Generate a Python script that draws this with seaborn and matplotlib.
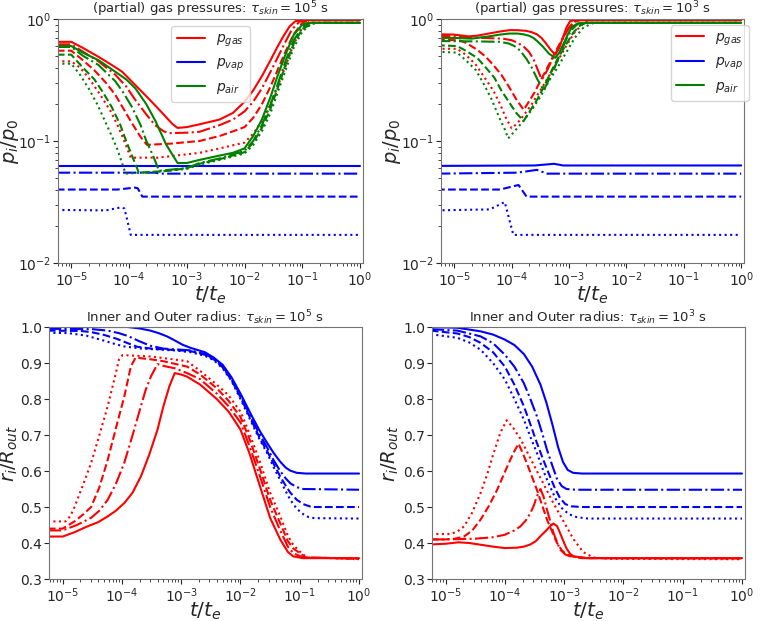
import numpy as np
import matplotlib
matplotlib.use("Agg")
import matplotlib.pyplot as plt
from matplotlib.lines import Line2D
import seaborn as sns

# one entry per simulation case, always in this order
STYLES = ["-", "-.", "--", ":"]

# ---------- tau_skin = 1e5 s, (partial) gas pressures ----------
# x values are log10(t/t_e), y values are p_i/p_0
gas5_lt = [
    [-5.25, -5.0, -4.8, -4.53, -4.3, -4.12, -3.9, -3.65, -3.4, -3.25, -3.16, -3.0, -2.78, -2.43, -2.2, -2.0, -1.85, -1.7, -1.55, -1.44, -1.33, -1.22, -1.12, -1.0, 0.0],
    [-5.25, -5.0, -4.8, -4.53, -4.24, -4.05, -3.9, -3.7, -3.55, -3.4, -3.3, -3.0, -2.78, -2.43, -2.2, -2.0, -1.85, -1.7, -1.55, -1.44, -1.3, -1.18, -1.05, -0.95, 0.0],
    [-5.25, -5.0, -4.8, -4.6, -4.4, -4.24, -4.1, -3.95, -3.8, -3.69, -3.3, -2.78, -2.43, -2.2, -2.0, -1.85, -1.7, -1.55, -1.44, -1.3, -1.15, -1.0, -0.89, 0.0],
    [-5.25, -5.0, -4.85, -4.7, -4.5, -4.32, -4.2, -4.1, -3.97, -3.5, -2.78, -2.43, -2.0, -1.85, -1.7, -1.55, -1.44, -1.3, -1.15, -1.0, -0.88, -0.8, 0.0],
]
gas5_p = [
    [0.65, 0.65, 0.58, 0.49, 0.42, 0.37, 0.29, 0.22, 0.165, 0.138, 0.128, 0.13, 0.137, 0.15, 0.17, 0.21, 0.26, 0.34, 0.46, 0.58, 0.72, 0.87, 0.96, 0.98, 0.98],
    [0.62, 0.62, 0.54, 0.45, 0.35, 0.28, 0.22, 0.165, 0.135, 0.12, 0.116, 0.117, 0.119, 0.135, 0.15, 0.175, 0.21, 0.27, 0.37, 0.47, 0.64, 0.82, 0.95, 0.98, 0.98],
    [0.55, 0.55, 0.46, 0.38, 0.30, 0.24, 0.185, 0.14, 0.108, 0.093, 0.095, 0.10, 0.11, 0.12, 0.13, 0.155, 0.20, 0.28, 0.37, 0.53, 0.75, 0.93, 0.98, 0.98],
    [0.45, 0.45, 0.40, 0.33, 0.24, 0.176, 0.135, 0.105, 0.073, 0.073, 0.08, 0.087, 0.097, 0.115, 0.145, 0.20, 0.27, 0.40, 0.62, 0.85, 0.95, 0.98, 0.98],
]
vap5_lt = [
    [-5.25, 0.0],
    [-5.25, -3.55, -3.45, 0.0],
    [-5.25, -4.2, -3.9, -3.85, -3.77, 0.0],
    [-5.25, -4.4, -4.15, -4.08, -3.97, 0.0],
]
vap5_p = [
    [0.0625, 0.0625],
    [0.055, 0.055, 0.054, 0.054],
    [0.040, 0.040, 0.0415, 0.041, 0.035, 0.035],
    [0.0272, 0.027, 0.0285, 0.028, 0.017, 0.017],
]
air5_lt = [
    [-5.25, -5.0, -4.8, -4.53, -4.24, -4.05, -3.89, -3.7, -3.54, -3.36, -3.16, -3.0, -2.78, -2.43, -2.2, -2.0, -1.85, -1.7, -1.55, -1.44, -1.3, -1.15, -1.0, -0.9, 0.0],
    [-5.25, -5.0, -4.8, -4.53, -4.24, -4.1, -3.95, -3.8, -3.7, -3.58, -3.48, -3.0, -2.78, -2.43, -2.0, -1.85, -1.7, -1.55, -1.44, -1.3, -1.15, -1.0, -0.85, 0.0],
    [-5.25, -5.0, -4.8, -4.6, -4.45, -4.3, -4.15, -4.05, -3.93, -3.83, -3.3, -3.0, -2.78, -2.43, -2.0, -1.85, -1.7, -1.55, -1.44, -1.3, -1.15, -1.0, -0.8, 0.0],
    [-5.25, -5.0, -4.85, -4.7, -4.55, -4.4, -4.3, -4.2, -4.06, -3.5, -3.0, -2.78, -2.43, -2.0, -1.85, -1.7, -1.55, -1.44, -1.3, -1.15, -1.0, -0.85, -0.72, 0.0],
]
air5_p = [
    [0.60, 0.60, 0.53, 0.46, 0.37, 0.32, 0.27, 0.20, 0.145, 0.094, 0.066, 0.066, 0.07, 0.076, 0.08, 0.087, 0.11, 0.15, 0.23, 0.33, 0.50, 0.74, 0.90, 0.93, 0.93],
    [0.59, 0.59, 0.50, 0.42, 0.31, 0.25, 0.19, 0.135, 0.10, 0.075, 0.057, 0.06, 0.066, 0.072, 0.083, 0.10, 0.135, 0.20, 0.28, 0.44, 0.67, 0.86, 0.93, 0.93],
    [0.51, 0.51, 0.40, 0.32, 0.25, 0.19, 0.135, 0.10, 0.072, 0.055, 0.057, 0.06, 0.065, 0.071, 0.081, 0.097, 0.128, 0.185, 0.26, 0.41, 0.63, 0.83, 0.93, 0.93],
    [0.43, 0.43, 0.35, 0.27, 0.20, 0.14, 0.11, 0.085, 0.054, 0.056, 0.059, 0.064, 0.07, 0.079, 0.093, 0.12, 0.17, 0.24, 0.37, 0.58, 0.79, 0.91, 0.93, 0.93],
]

# ---------- tau_skin = 1e3 s, (partial) gas pressures ----------
gas3_lt = [
    [-5.3, -5.0, -4.85, -4.75, -4.6, -4.4, -4.2, -4.04, -3.9, -3.75, -3.65, -3.56, -3.48, -3.4, -3.32, -3.24, -3.17, -3.1, -3.04, -2.98, -2.9, 0.0],
    [-5.3, -5.0, -4.5, -4.15, -4.0, -3.9, -3.8, -3.7, -3.62, -3.56, -3.5, -3.47, -3.38, -3.28, -3.2, -3.1, -3.0, -2.9, -2.8, 0.0],
    [-5.3, -4.92, -4.8, -4.6, -4.45, -4.32, -4.18, -4.05, -3.92, -3.79, -3.7, -3.6, -3.5, -3.4, -3.3, -3.2, -3.1, -3.0, -2.9, -2.8, 0.0],
    [-5.3, -4.95, -4.8, -4.62, -4.47, -4.32, -4.2, -4.1, -4.0, -3.9, -3.8, -3.65, -3.5, -3.35, -3.2, -3.05, -2.9, -2.75, -2.63, 0.0],
]
gas3_p = [
    [0.75, 0.745, 0.73, 0.72, 0.73, 0.76, 0.79, 0.81, 0.81, 0.80, 0.78, 0.75, 0.70, 0.63, 0.56, 0.51, 0.58, 0.72, 0.86, 0.96, 0.98, 0.98],
    [0.73, 0.72, 0.70, 0.69, 0.67, 0.64, 0.60, 0.54, 0.47, 0.40, 0.34, 0.32, 0.38, 0.48, 0.56, 0.70, 0.85, 0.96, 0.98, 0.98],
    [0.675, 0.67, 0.64, 0.56, 0.49, 0.42, 0.35, 0.28, 0.22, 0.18, 0.21, 0.25, 0.31, 0.38, 0.47, 0.58, 0.71, 0.85, 0.95, 0.98, 0.98],
    [0.57, 0.57, 0.51, 0.42, 0.33, 0.26, 0.20, 0.155, 0.127, 0.14, 0.16, 0.20, 0.26, 0.34, 0.45, 0.60, 0.78, 0.92, 0.98, 0.98],
]
vap3_lt = [
    [-5.3, -3.6, -3.26, -3.1, 0.0],
    [-5.3, -3.9, -3.56, -3.38, 0.0],
    [-5.3, -4.2, -3.88, -3.74, 0.0],
    [-5.3, -4.38, -4.12, -3.97, 0.0],
]
vap3_p = [
    [0.0625, 0.063, 0.065, 0.063, 0.063],
    [0.054, 0.055, 0.058, 0.054, 0.054],
    [0.040, 0.040, 0.0436, 0.035, 0.035],
    [0.027, 0.0275, 0.0316, 0.017, 0.017],
]
air3_lt = [
    [-5.3, -5.0, -4.7, -4.4, -4.2, -4.04, -3.9, -3.8, -3.7, -3.62, -3.54, -3.45, -3.35, -3.24, -3.17, -3.1, -3.02, -2.95, -2.85, -2.75, 0.0],
    [-5.3, -4.6, -4.2, -4.05, -3.95, -3.85, -3.74, -3.65, -3.55, -3.44, -3.35, -3.25, -3.15, -3.05, -2.95, -2.85, -2.75, 0.0],
    [-5.3, -4.95, -4.8, -4.6, -4.45, -4.3, -4.18, -4.05, -3.92, -3.79, -3.67, -3.55, -3.42, -3.3, -3.18, -3.05, -2.92, -2.8, -2.7, 0.0],
    [-5.3, -4.95, -4.8, -4.62, -4.48, -4.35, -4.2, -4.12, -4.06, -3.95, -3.8, -3.65, -3.5, -3.35, -3.2, -3.05, -2.9, -2.75, -2.6, -2.5, 0.0],
]
air3_p = [
    [0.70, 0.70, 0.69, 0.72, 0.745, 0.76, 0.76, 0.75, 0.73, 0.70, 0.65, 0.59, 0.52, 0.48, 0.53, 0.62, 0.75, 0.86, 0.92, 0.93, 0.93],
    [0.66, 0.655, 0.65, 0.63, 0.60, 0.55, 0.47, 0.40, 0.32, 0.26, 0.32, 0.40, 0.52, 0.68, 0.82, 0.91, 0.93, 0.93],
    [0.61, 0.60, 0.55, 0.48, 0.40, 0.33, 0.26, 0.21, 0.17, 0.146, 0.18, 0.22, 0.29, 0.38, 0.49, 0.62, 0.78, 0.89, 0.93, 0.93],
    [0.54, 0.53, 0.46, 0.38, 0.29, 0.22, 0.15, 0.125, 0.105, 0.12, 0.145, 0.18, 0.23, 0.31, 0.40, 0.53, 0.70, 0.85, 0.92, 0.93, 0.93],
]

# ---------- tau_skin = 1e5 s, inner (red) and outer (blue) radius ----------
inner5_lt = [
    [-5.25, -5.0, -4.8, -4.6, -4.4, -4.24, -4.1, -3.96, -3.82, -3.68, -3.54, -3.4, -3.3, -3.2, -3.11, -3.0, -2.9, -2.68, -2.4, -2.2, -2.0, -1.85, -1.67, -1.5, -1.33, -1.2, -1.11, -0.95, 0.0],
    [-5.25, -5.0, -4.76, -4.52, -4.38, -4.24, -4.1, -3.96, -3.82, -3.68, -3.6, -3.51, -3.4, -3.3, -3.1, -2.9, -2.68, -2.4, -2.2, -2.0, -1.85, -1.67, -1.5, -1.33, -1.2, -1.11, -0.95, 0.0],
    [-5.25, -5.0, -4.8, -4.65, -4.52, -4.38, -4.24, -4.1, -3.96, -3.85, -3.77, -3.5, -3.3, -2.9, -2.68, -2.4, -2.2, -2.0, -1.85, -1.67, -1.5, -1.33, -1.2, -1.11, -0.9, 0.0],
    [-5.25, -4.95, -4.87, -4.8, -4.66, -4.52, -4.38, -4.24, -4.12, -4.05, -3.99, -3.5, -2.9, -2.68, -2.4, -2.2, -2.0, -1.85, -1.67, -1.5, -1.33, -1.2, -1.11, -0.95, -0.85, 0.0],
]
inner5_r = [
    [0.418, 0.418, 0.43, 0.445, 0.458, 0.474, 0.49, 0.511, 0.54, 0.585, 0.645, 0.715, 0.78, 0.835, 0.872, 0.868, 0.862, 0.84, 0.80, 0.765, 0.715, 0.65, 0.557, 0.47, 0.41, 0.375, 0.363, 0.358, 0.358],
    [0.435, 0.435, 0.45, 0.47, 0.49, 0.52, 0.565, 0.623, 0.70, 0.78, 0.825, 0.863, 0.897, 0.892, 0.885, 0.872, 0.855, 0.815, 0.78, 0.735, 0.67, 0.585, 0.50, 0.435, 0.39, 0.372, 0.36, 0.357],
    [0.44, 0.44, 0.46, 0.48, 0.50, 0.555, 0.631, 0.72, 0.807, 0.89, 0.915, 0.91, 0.905, 0.89, 0.868, 0.83, 0.795, 0.75, 0.69, 0.605, 0.52, 0.455, 0.405, 0.385, 0.36, 0.356],
    [0.46, 0.46, 0.475, 0.50, 0.56, 0.622, 0.70, 0.78, 0.86, 0.91, 0.922, 0.918, 0.905, 0.878, 0.84, 0.81, 0.765, 0.705, 0.625, 0.54, 0.475, 0.42, 0.395, 0.368, 0.36, 0.355],
]
outer5_lt = [
    [-5.25, -3.9, -3.7, -3.52, -3.38, -3.24, -3.1, -2.98, -2.84, -2.6, -2.45, -2.3, -2.15, -2.0, -1.8, -1.67, -1.55, -1.44, -1.33, -1.24, -1.16, -1.05, -0.9, 0.0],
    [-5.25, -4.5, -4.24, -4.05, -3.9, -3.7, -3.52, -3.3, -3.0, -2.84, -2.6, -2.45, -2.3, -2.15, -2.0, -1.8, -1.67, -1.55, -1.44, -1.33, -1.24, -1.16, -1.05, -0.94, 0.0],
    [-5.25, -4.7, -4.52, -4.3, -4.1, -3.9, -3.74, -3.5, -3.0, -2.84, -2.6, -2.45, -2.3, -2.15, -2.0, -1.8, -1.67, -1.55, -1.44, -1.33, -1.24, -1.16, -1.05, -0.94, -0.8, 0.0],
    [-5.25, -4.9, -4.6, -4.3, -4.1, -3.96, -3.66, -3.12, -2.84, -2.6, -2.45, -2.3, -2.15, -2.0, -1.8, -1.67, -1.55, -1.44, -1.33, -1.24, -1.16, -1.05, -0.94, -0.85, -0.75, 0.0],
]
outer5_r = [
    [1.0, 1.0, 0.996, 0.99, 0.983, 0.974, 0.962, 0.951, 0.942, 0.93, 0.915, 0.895, 0.86, 0.815, 0.75, 0.71, 0.678, 0.65, 0.626, 0.61, 0.601, 0.595, 0.593, 0.593],
    [0.995, 0.994, 0.99, 0.983, 0.975, 0.96, 0.948, 0.94, 0.937, 0.935, 0.925, 0.912, 0.89, 0.855, 0.81, 0.74, 0.70, 0.665, 0.63, 0.60, 0.58, 0.566, 0.555, 0.55, 0.548],
    [0.99, 0.989, 0.986, 0.978, 0.968, 0.955, 0.945, 0.94, 0.935, 0.933, 0.923, 0.91, 0.888, 0.852, 0.805, 0.735, 0.69, 0.655, 0.62, 0.585, 0.56, 0.54, 0.52, 0.508, 0.50, 0.50],
    [0.984, 0.983, 0.976, 0.962, 0.952, 0.946, 0.94, 0.935, 0.93, 0.92, 0.908, 0.885, 0.85, 0.80, 0.73, 0.685, 0.65, 0.61, 0.575, 0.545, 0.52, 0.495, 0.48, 0.472, 0.469, 0.468],
]

# ---------- tau_skin = 1e3 s, inner (red) and outer (blue) radius ----------
inner3_lt = [
    [-5.25, -5.0, -4.78, -4.6, -4.4, -4.2, -4.0, -3.8, -3.68, -3.57, -3.48, -3.4, -3.29, -3.23, -3.18, -3.12, -3.07, -3.0, -2.96, -2.9, -2.84, -2.62, 0.0],
    [-5.25, -5.0, -4.5, -4.2, -4.0, -3.84, -3.74, -3.65, -3.57, -3.51, -3.46, -3.4, -3.35, -3.29, -3.18, -3.07, -2.98, -2.9, -2.6, 0.0],
    [-5.25, -5.0, -4.85, -4.69, -4.55, -4.41, -4.27, -4.13, -4.02, -3.91, -3.84, -3.77, -3.7, -3.63, -3.46, -3.29, -3.12, -3.04, -2.96, -2.8, -2.7, 0.0],
    [-5.25, -4.92, -4.8, -4.69, -4.55, -4.41, -4.3, -4.19, -4.08, -3.97, -3.86, -3.74, -3.6, -3.46, -3.32, -3.18, -3.01, -2.84, -2.68, -2.51, -2.2, 0.0],
]
inner3_r = [
    [0.396, 0.398, 0.402, 0.40, 0.395, 0.39, 0.386, 0.387, 0.39, 0.396, 0.405, 0.419, 0.437, 0.448, 0.454, 0.447, 0.428, 0.40, 0.385, 0.37, 0.363, 0.358, 0.358],
    [0.41, 0.41, 0.412, 0.416, 0.423, 0.435, 0.446, 0.462, 0.483, 0.505, 0.53, 0.55, 0.53, 0.493, 0.428, 0.382, 0.368, 0.363, 0.358, 0.358],
    [0.41, 0.41, 0.412, 0.418, 0.435, 0.465, 0.503, 0.548, 0.59, 0.631, 0.655, 0.676, 0.65, 0.622, 0.548, 0.465, 0.40, 0.38, 0.368, 0.36, 0.358, 0.357],
    [0.425, 0.425, 0.432, 0.446, 0.485, 0.539, 0.59, 0.65, 0.705, 0.741, 0.72, 0.69, 0.645, 0.60, 0.555, 0.51, 0.46, 0.41, 0.375, 0.36, 0.356, 0.355],
]
outer3_lt = [
    [-5.25, -4.8, -4.41, -4.2, -4.0, -3.84, -3.68, -3.54, -3.4, -3.3, -3.2, -3.1, -3.02, -2.94, -2.85, -2.7, 0.0],
    [-5.25, -4.8, -4.41, -4.2, -4.0, -3.84, -3.68, -3.57, -3.46, -3.37, -3.29, -3.2, -3.12, -3.04, -2.96, -2.8, 0.0],
    [-5.25, -4.8, -4.6, -4.41, -4.2, -4.0, -3.84, -3.68, -3.57, -3.46, -3.35, -3.24, -3.15, -3.07, -2.98, -2.88, -2.7, 0.0],
    [-5.25, -4.8, -4.6, -4.41, -4.2, -4.0, -3.84, -3.68, -3.57, -3.46, -3.35, -3.24, -3.14, -3.04, -2.92, -2.79, -2.6, 0.0],
]
outer3_r = [
    [1.0, 0.998, 0.988, 0.979, 0.965, 0.95, 0.925, 0.89, 0.84, 0.79, 0.73, 0.665, 0.625, 0.603, 0.595, 0.593, 0.593],
    [0.994, 0.99, 0.974, 0.955, 0.923, 0.89, 0.844, 0.80, 0.752, 0.705, 0.659, 0.615, 0.578, 0.558, 0.55, 0.548, 0.548],
    [0.99, 0.982, 0.972, 0.956, 0.93, 0.89, 0.84, 0.78, 0.73, 0.678, 0.63, 0.585, 0.55, 0.525, 0.508, 0.502, 0.50, 0.50],
    [0.98, 0.97, 0.957, 0.937, 0.90, 0.854, 0.80, 0.743, 0.695, 0.65, 0.60, 0.557, 0.522, 0.497, 0.48, 0.472, 0.468, 0.468],
]

sns.set_style("ticks", {"axes.edgecolor": "0.45"})
plt.rcParams["font.family"] = ["DejaVu Sans"]
plt.rcParams["mathtext.fontset"] = "dejavusans"


def draw(ax, lts, vals, color):
    for lt, v, ls in zip(lts, vals, STYLES):
        sns.lineplot(x=10.0 ** np.asarray(lt), y=v, ax=ax, color=color,
                     linestyle=ls, linewidth=1.5, estimator=None, sort=False)


fig, axes = plt.subplots(2, 2, figsize=(7.6, 6.21), dpi=100)
(ax1, ax2), (ax3, ax4) = axes
ax1.set_position([0.0763, 0.5765, 0.4013, 0.3929])
ax2.set_position([0.5803, 0.5765, 0.3987, 0.3929])
ax3.set_position([0.0645, 0.0676, 0.4118, 0.4058])
ax4.set_position([0.5684, 0.0676, 0.4118, 0.4058])

for ax in axes.flat:
    ax.set_xscale("log")

for ax, gas, vap, air, tau in [(ax1, (gas5_lt, gas5_p), (vap5_lt, vap5_p), (air5_lt, air5_p), 5),
                               (ax2, (gas3_lt, gas3_p), (vap3_lt, vap3_p), (air3_lt, air3_p), 3)]:
    ax.set_yscale("log")
    draw(ax, *gas, "red")
    draw(ax, *vap, "blue")
    draw(ax, *air, "green")
    ax.set_ylim(1e-2, 1)
    ax.set_ylabel(r"$p_i/p_0$", fontsize=14)
    ax.set_title(r"(partial) gas pressures: $\tau_{skin} = 10^%d$ s" % tau, fontsize=9.5, pad=0)

for ax, inner, outer, tau in [(ax3, (inner5_lt, inner5_r), (outer5_lt, outer5_r), 5),
                              (ax4, (inner3_lt, inner3_r), (outer3_lt, outer3_r), 3)]:
    draw(ax, *outer, "blue")
    draw(ax, *inner, "red")
    ax.set_ylim(0.3, 1.0)
    ax.set_yticks(np.arange(0.3, 1.01, 0.1))
    ax.set_ylabel(r"$r_i/R_{out}$", fontsize=14)
    ax.set_title(r"Inner and Outer radius: $\tau_{skin} = 10^%d$ s" % tau, fontsize=9.5, pad=1)

# right edge of each y label, in axes fractions
for ax, xl in zip(axes.flat, [-0.122, -0.126, -0.092, -0.098]):
    ax.yaxis.set_label_coords(xl, 0.5)

for ax in axes.flat:
    ax.set_xlim(10 ** -5.23, 10 ** 0.05)
    ax.set_xticks([1e-5, 1e-4, 1e-3, 1e-2, 1e-1, 1e0])
    ax.set_xlabel(r"$t/t_e$", fontsize=14.5, labelpad=-2.5)
    ax.tick_params(labelsize=10, pad=1.5, length=3.5)
    ax.tick_params(which="minor", length=2)
    for s in ax.spines.values():
        s.set_linewidth(0.8)

handles = [Line2D([], [], color="red", lw=1.5), Line2D([], [], color="blue", lw=1.5),
           Line2D([], [], color="green", lw=1.5)]
labels = [r"$p_{gas}$", r"$p_{vap}$", r"$p_{air}$"]
ax1.legend(handles, labels, loc="upper center", fontsize=10)
ax2.legend(handles, labels, loc="upper right", bbox_to_anchor=(1.04, 1.005), fontsize=10)

fig.savefig("out.png", dpi=100)
